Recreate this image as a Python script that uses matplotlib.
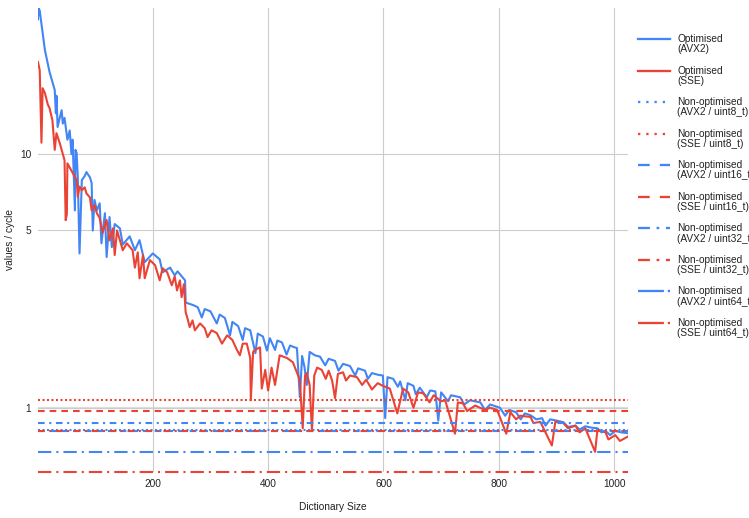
import matplotlib
matplotlib.use("Agg")
import matplotlib.pyplot as plt
from matplotlib.lines import Line2D
from matplotlib.ticker import FixedLocator, FixedFormatter, NullLocator

plt.rcParams['font.family'] = ['Liberation Sans', 'DejaVu Sans']

BLUE = '#4285F4'
RED = '#EA4335'

# optimised kernels, values per cycle against dictionary size
avx2_x = [1, 2, 4, 13, 21, 30, 32, 33, 35, 39, 42, 44, 47, 52, 56, 59, 61, 65, 66, 68,
          70, 73, 77, 82, 85, 91, 94, 96, 99, 103, 108, 111, 117, 120, 125, 129, 134, 143, 148, 160,
          169, 177, 186, 200, 212, 217, 230, 238, 243, 256,
          257, 270, 278, 285, 290, 300, 311, 316, 325, 334, 338, 348, 356, 360, 369, 378, 382, 391, 398, 403,
          412, 416, 424, 432, 438, 446, 450, 455, 459, 463, 467, 472, 481, 490, 499, 505, 516, 522, 530, 542,
          551, 556, 568, 573, 580, 590, 599, 603, 607, 617, 625, 629, 638, 642, 652, 656, 663, 675, 681, 690,
          695, 700, 712, 717, 733, 740, 750, 768, 776, 785, 802, 811, 818, 830, 838, 845, 855, 865, 875, 881,
          889, 900, 912, 920, 933, 940, 950, 960, 971, 978, 985, 993, 1002, 1012, 1024]
avx2_y = [34.0, 37.7, 36.8, 25.7, 21.1, 17.9, 14.5, 17.0, 12.8, 14.0, 14.9, 13.2, 13.9, 11.4, 12.4, 10.0, 11.4, 6.0, 10.4, 10.1,
          8.1, 4.06, 7.9, 8.2, 8.5, 8.1, 7.7, 5.0, 6.6, 6.0, 6.4, 4.45, 5.85, 3.93, 5.65, 4.3, 5.3, 5.1, 4.4, 4.74,
          4.18, 4.58, 3.75, 4.06, 3.85, 3.42, 3.57, 3.33, 3.45, 3.18,
          2.60, 2.54, 2.49, 2.27, 2.45, 2.40, 2.15, 2.33, 2.26, 1.93, 2.18, 2.10, 1.85, 2.06, 2.02, 1.64, 1.96, 1.91, 1.68, 1.88,
          1.69, 1.84, 1.81, 1.62, 1.76, 1.73, 1.72, 1.10, 1.60, 1.45, 1.23, 1.66, 1.61, 1.59, 1.47, 1.56, 1.53, 1.40, 1.49, 1.46,
          1.34, 1.43, 1.40, 1.30, 1.37, 1.35, 1.34, 0.91, 1.32, 1.30, 1.21, 1.27, 1.07, 1.25, 1.22, 1.13, 1.20, 1.10, 1.17, 1.16,
          0.89, 1.15, 1.06, 1.12, 1.10, 1.03, 1.07, 1.05, 0.98, 1.03, 1.00, 0.93, 0.98, 0.96, 0.90, 0.95, 0.934, 0.90, 0.91, 0.85,
          0.90, 0.89, 0.877, 0.84, 0.85, 0.82, 0.845, 0.835, 0.83, 0.80, 0.81, 0.78, 0.81, 0.80, 0.793]

sse_x = [1, 4, 7, 9, 13, 18, 21, 26, 30, 33, 39, 44, 47, 49, 51, 52, 59, 65, 68, 70,
         73, 77, 82, 85, 91, 94, 99, 103, 108, 113, 120, 125, 131, 134, 138, 143, 148, 155, 165, 169,
         174, 177, 183, 186, 195, 204, 212, 217, 225, 233, 238, 242, 247, 250, 254, 257, 260, 264, 269, 273,
         282, 290, 295, 302, 311, 320, 329, 338, 346, 351, 356, 363, 369, 370, 374, 377, 386, 389, 395, 400,
         406, 412, 420, 433, 443, 452, 455, 460, 464, 467, 472, 476, 480, 485, 493, 500, 505, 511, 516, 521,
         530, 535, 542, 554, 563, 570, 580, 590, 599, 611, 624, 634, 643, 652, 660, 669, 680, 687, 700, 707,
         724, 729, 738, 745, 759, 776, 785, 797, 813, 820, 830, 837, 855, 860, 872, 892, 898, 912, 920, 933,
         940, 950, 967, 971, 985, 990, 1002, 1010, 1024]
sse_y = [23.1, 21.4, 11.1, 18.2, 17.4, 15.7, 15.2, 13.6, 10.4, 12.1, 11.0, 10.0, 9.47, 5.49, 5.8, 9.2, 8.6, 8.1, 7.9, 6.8,
         7.45, 7.2, 7.4, 7.0, 6.75, 6.0, 6.3, 5.85, 5.6, 4.9, 5.5, 4.57, 5.1, 4.0, 5.0, 4.58, 4.18, 4.45, 4.18, 3.57,
         4.1, 3.24, 4.0, 3.24, 3.82, 3.65, 3.18, 3.55, 3.42, 3.04, 3.3, 2.9, 3.18, 2.73, 3.07, 2.38, 2.26, 2.08, 2.21, 2.02,
         2.15, 2.06, 1.90, 2.02, 1.97, 1.79, 1.93, 1.85, 1.69, 1.61, 1.79, 1.79, 1.57, 1.07, 1.66, 1.69, 1.73, 1.19, 1.41, 1.17,
         1.44, 1.23, 1.61, 1.57, 1.51, 1.34, 1.28, 0.83, 1.34, 1.37, 1.23, 0.81, 1.34, 1.44, 1.41, 1.30, 1.40, 1.28, 1.09, 1.36,
         1.38, 1.28, 1.34, 1.32, 1.23, 1.29, 1.18, 1.25, 1.22, 1.19, 0.95, 1.19, 1.15, 1.00, 1.15, 1.14, 1.05, 1.12, 1.06, 1.07,
         0.79, 1.05, 1.04, 0.97, 1.02, 0.98, 1.00, 0.98, 0.79, 0.96, 0.90, 0.93, 0.92, 0.87, 0.88, 0.71, 0.88, 0.87, 0.83, 0.85,
         0.80, 0.83, 0.67, 0.82, 0.80, 0.75, 0.78, 0.74, 0.77]

# non-optimised kernels are flat
flat_labels = ['AVX2 / uint8_t', 'SSE / uint8_t', 'AVX2 / uint16_t', 'SSE / uint16_t',
               'AVX2 / uint32_t', 'SSE / uint32_t', 'AVX2 / uint64_t', 'SSE / uint64_t']
flat_values = [0.819, 1.070, 0.808, 0.971, 0.874, 0.810, 0.669, 0.558]

dot = (0, (0.96, 1.2))
dash = (0, (3.2, 2.4))
dashdot = (0, (3.2, 2.2, 1, 2.2))
longdashdot = (0, (6.4, 2.4, 1, 2.4))
flat_styles = [dot, dot, dash, dash, dashdot, dashdot, longdashdot, longdashdot]
flat_colors = [BLUE, RED] * 4

# bigger dash patterns for the legend samples
leg_styles = [(0, (1, 2.6)), (0, (5.1, 4.4)), (0, (5.2, 2.9, 1.2, 2.9)), (0, (11.3, 1.7, 1.2, 1.7))]

fig = plt.figure(figsize=(7.49, 5.18), dpi=100)
ax = fig.add_axes([38 / 749, 1 - 472 / 518, 590 / 749, 464 / 518])

ax.plot(avx2_x, avx2_y, color=BLUE, lw=1.5, zorder=3)
ax.plot(sse_x, sse_y, color=RED, lw=1.5, zorder=3)

for v, ls, c in zip(flat_values, flat_styles, flat_colors):
    ax.axhline(v, color=c, lw=1.5, linestyle=ls, zorder=4, clip_on=False)

ax.set_yscale('log')
ax.set_xlim(1, 1024)
ax.set_ylim(0.558, 37.7)

ax.yaxis.set_major_locator(FixedLocator([1, 5, 10]))
ax.yaxis.set_major_formatter(FixedFormatter(['1', '5', '10']))
ax.yaxis.set_minor_locator(NullLocator())
ax.set_xticks([200, 400, 600, 800, 1000])
ax.tick_params(length=0, labelsize=7.3, colors='#222222', pad=5)
ax.grid(True, color='#cccccc', lw=0.8)
ax.axhline(1, color='#dddddd', lw=1.5, zorder=1)
for s in ax.spines.values():
    s.set_visible(False)

ax.set_xlabel('Dictionary Size', fontsize=7.3, color='#222222', va='top')
ax.xaxis.set_label_coords(0.5, -30 / 464)
ax.set_ylabel('values / cycle', fontsize=7.3, color='#222222')
ax.yaxis.set_label_coords(-23 / 590, 0.5)

# legend on the right, drawn by hand
names = [('Optimised', '(AVX2)', BLUE, '-'), ('Optimised', '(SSE)', RED, '-')]
for i, lab in enumerate(flat_labels):
    names.append(('Non-optimised', '(' + lab + ')', flat_colors[i], leg_styles[i // 2]))

W, H = 749.0, 518.0
for i, (l1, l2, c, ls) in enumerate(names):
    y = 39 + i * 31.55
    fig.add_artist(Line2D([637.5 / W, 670 / W], [1 - y / H, 1 - y / H], color=c, lw=1.65,
                          linestyle=ls, transform=fig.transFigure))
    fig.text(677 / W, 1 - y / H, l1, fontsize=7.3, color='#222222', va='center')
    fig.text(677 / W, 1 - (y + 10.3) / H, l2, fontsize=7.3, color='#222222', va='center')

fig.savefig('out.png', dpi=100)
